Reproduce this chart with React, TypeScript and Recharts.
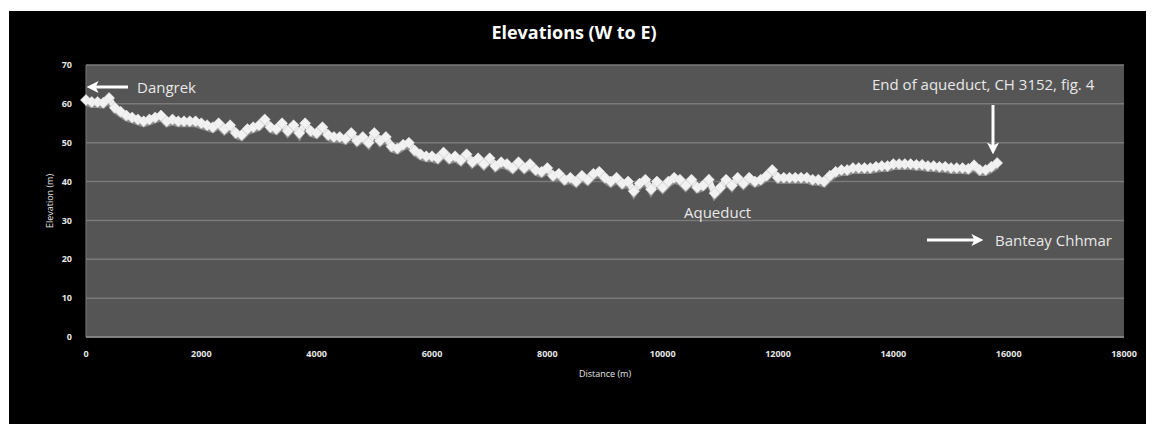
import React from "react";
import {
  LineChart,
  Line,
  XAxis,
  YAxis,
  CartesianGrid,
  Label,
} from "recharts";

const distances: number[] = [
  0, 100, 200, 300, 400, 500, 600, 700, 800, 900,
  1000, 1100, 1200, 1300, 1400, 1500, 1600, 1700, 1800, 1900,
  2000, 2100, 2200, 2300, 2400, 2500, 2600, 2700, 2800, 2900,
  3000, 3100, 3200, 3300, 3400, 3500, 3600, 3700, 3800, 3900,
  4000, 4100, 4200, 4300, 4400, 4500, 4600, 4700, 4800, 4900,
  5000, 5100, 5200, 5300, 5400, 5500, 5600, 5700, 5800, 5900,
  6000, 6100, 6200, 6300, 6400, 6500, 6600, 6700, 6800, 6900,
  7000, 7100, 7200, 7300, 7400, 7500, 7600, 7700, 7800, 7900,
  8000, 8100, 8200, 8300, 8400, 8500, 8600, 8700, 8800, 8900,
  9000, 9100, 9200, 9300, 9400, 9500, 9600, 9700, 9800, 9900,
  10000, 10100, 10200, 10300, 10400, 10500, 10600, 10700, 10800, 10900,
  11000, 11100, 11200, 11300, 11400, 11500, 11600, 11700, 11800, 11900,
  12000, 12100, 12200, 12300, 12400, 12500, 12600, 12700, 12800, 12900,
  13000, 13100, 13200, 13300, 13400, 13500, 13600, 13700, 13800, 13900,
  14000, 14100, 14200, 14300, 14400, 14500, 14600, 14700, 14800, 14900,
  15000, 15100, 15200, 15300, 15400, 15500, 15600, 15700, 15800,
];

const elevations: number[] = [
  61, 60.5, 60.5, 60.3, 61.5, 59, 58, 57, 56.5, 56,
  55.5, 56, 56.5, 57, 55.5, 56, 55.5, 55.5, 55.5, 55.5,
  55, 54.5, 54, 55, 53.5, 54.5, 52.5, 52, 53.5, 54,
  54.5, 56, 54, 53.5, 55, 53, 54.5, 52.5, 55, 53,
  52.5, 54, 52, 51.5, 51.5, 51, 52.5, 50.5, 51.5, 50,
  52.5, 50.5, 51.5, 49, 48.5, 49.5, 50, 48, 47, 46.5,
  46.5, 46, 47.5, 46, 46.5, 45.5, 47, 45, 46, 44.5,
  46, 44, 45, 44.5, 43.5, 45, 43.5, 44.5, 43, 42.5,
  43.5, 41.5, 42, 40.5, 41, 40, 41.5, 40.5, 42, 42.5,
  41, 40, 41, 39.5, 40, 37.5, 39.5, 40.5, 38, 40,
  38.5, 40, 41, 40.5, 39, 40.5, 38.5, 39, 40.5, 37,
  38.5, 40.5, 39, 41, 39.5, 41, 40, 40.5, 41.5, 43,
  41, 41, 41, 41, 41, 41, 40.5, 40.5, 40, 41.5,
  42.5, 43, 43, 43.5, 43.5, 43.5, 43.5, 43.8, 44, 44,
  44.5, 44.5, 44.5, 44.5, 44.3, 44.3, 44, 44, 43.8, 43.8,
  43.5, 43.5, 43.5, 43.3, 44.2, 43, 43, 43.8, 44.8,
];

const xTicks: number[] = [0, 2000, 4000, 6000, 8000, 10000, 12000, 14000, 16000, 18000];
const yTicks: number[] = [0, 10, 20, 30, 40, 50, 60, 70];

const data = distances.map((d, i) => ({ d, e: elevations[i] }));

const FONT = "'Open Sans', 'Noto Sans', sans-serif";

const ShadowDot = (props: any) => {
  const { cx, cy } = props;
  if (cx == null || cy == null) return null;
  const s = 5.5;
  return (
    <polygon
      points={`${cx},${cy - s} ${cx + s},${cy} ${cx},${cy + s} ${cx - s},${cy}`}
      fill="#8e8e8e"
      stroke="none"
    />
  );
};

const WhiteDot = (props: any) => {
  const { cx, cy } = props;
  if (cx == null || cy == null) return null;
  const s = 5.5;
  return (
    <polygon
      points={`${cx},${cy - s} ${cx + s},${cy} ${cx},${cy + s} ${cx - s},${cy}`}
      fill="#f2f2f2"
      stroke="#e0e0e0"
      strokeWidth={0.5}
    />
  );
};

export default function App() {
  return (
    <div
      style={{
        position: "relative",
        marginTop: 3,
        marginLeft: 1,
        width: 1145,
        height: 413,
        background: "#000",
        fontFamily: FONT,
      }}
    >
      <LineChart
        width={1145}
        height={413}
        data={data}
        margin={{ top: 54, right: 30, bottom: 47, left: 47 }}
      >
        <CartesianGrid
          vertical={false}
          fill="#555555"
          stroke="#7a7a7a"
          strokeWidth={1.5}
        />
        <XAxis
          dataKey="d"
          type="number"
          domain={[0, 18000]}
          ticks={xTicks}
          interval={0}
          height={40}
          axisLine={{ stroke: "#8a8a8a", strokeWidth: 1.5 }}
          tickLine={false}
          tick={{ fill: "#e6e6e6", fontSize: 9, fontWeight: 700, fontFamily: FONT }}
          tickMargin={8}
        >
          <Label
            value="Distance (m)"
            position="insideBottom"
            offset={0}
            style={{ fill: "#e6e6e6", fontSize: 9, fontFamily: FONT }}
          />
        </XAxis>
        <YAxis
          type="number"
          domain={[0, 70]}
          ticks={yTicks}
          interval={0}
          width={30}
          axisLine={{ stroke: "#7a7a7a", strokeWidth: 1 }}
          tickLine={false}
          tick={{ fill: "#e6e6e6", fontSize: 9, fontWeight: 700, fontFamily: FONT }}
          tickMargin={8}
        >
          <Label
            value="Elevation (m)"
            angle={-90}
            position="insideLeft"
            offset={-6}
            style={{ fill: "#e6e6e6", fontSize: 9, fontFamily: FONT, textAnchor: "middle" }}
          />
        </YAxis>
        <Line
          dataKey="e"
          type="linear"
          stroke="#8e8e8e"
          strokeWidth={6}
          dot={<ShadowDot />}
          activeDot={false}
          isAnimationActive={false}
          transform="translate(0,3)"
        />
        <Line
          dataKey="e"
          type="linear"
          stroke="#eeeeee"
          strokeWidth={6}
          dot={<WhiteDot />}
          activeDot={false}
          isAnimationActive={false}
        />
      </LineChart>
      <svg
        width={1145}
        height={413}
        style={{ position: "absolute", left: 0, top: 0, pointerEvents: "none" }}
      >
        <defs>
          <marker
            id="ah"
            markerWidth="4"
            markerHeight="4"
            refX="2.2"
            refY="2"
            orient="auto"
            markerUnits="strokeWidth"
          >
            <path d="M0,0 L4,2 L0,4 L1,2 Z" fill="#ffffff" />
          </marker>
        </defs>
        <text
          x={565}
          y={28}
          textAnchor="middle"
          fill="#ffffff"
          fontSize={18}
          fontWeight={700}
          fontFamily={FONT}
        >
          Elevations (W to E)
        </text>
        {/* Dangrek */}
        <line x1={119} y1={76} x2={83} y2={76} stroke="#fff" strokeWidth={3} markerEnd="url(#ah)" />
        <text x={128} y={82} fill="#e8e8e8" fontSize={15} fontFamily={FONT}>
          Dangrek
        </text>
        {/* End of aqueduct */}
        <text x={863} y={79} fill="#e8e8e8" fontSize={15} fontFamily={FONT}>
          End of aqueduct, CH 3152, fig. 4
        </text>
        <line x1={984} y1={94} x2={984} y2={138} stroke="#fff" strokeWidth={3} markerEnd="url(#ah)" />
        {/* Aqueduct */}
        <text x={675} y={207} fill="#e8e8e8" fontSize={15} fontFamily={FONT}>
          Aqueduct
        </text>
        {/* Banteay Chhmar */}
        <line x1={918} y1={229} x2={969} y2={229} stroke="#fff" strokeWidth={3} markerEnd="url(#ah)" />
        <text x={986} y={235} fill="#e8e8e8" fontSize={15} fontFamily={FONT}>
          Banteay Chhmar
        </text>
      </svg>
    </div>
  );
}
